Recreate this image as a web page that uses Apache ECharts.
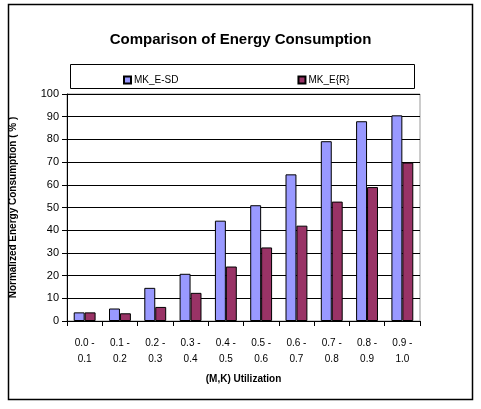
<!DOCTYPE html>
<html><head><meta charset="utf-8">
<script src="https://cdn.jsdelivr.net/npm/echarts@6/dist/echarts.min.js"></script>
<style>html,body{margin:0;padding:0;background:#fff}#c{width:481px;height:409px}</style>
</head><body><div id="c"></div>
<script>
const categories = ['0.0 -\n0.1','0.1 -\n0.2','0.2 -\n0.3','0.3 -\n0.4','0.4 -\n0.5','0.5 -\n0.6','0.6 -\n0.7','0.7 -\n0.8','0.8 -\n0.9','0.9 -\n1.0'];
const mkESD = [3.8, 5.5, 14.6, 20.8, 44.2, 51.0, 64.6, 79.2, 88.0, 90.6];
const mkER = [3.8, 3.4, 6.2, 12.4, 24.0, 32.4, 42.0, 52.6, 59.0, 69.8];
const seriesNames = ['MK_E-SD', 'MK_E{R}'];
const F = '"Liberation Sans", Arial, sans-serif';
const chart = echarts.init(document.getElementById('c'));
chart.setOption({
  animation: false,
  backgroundColor: '#fff',
  title: { text: 'Comparison of Energy Consumption', left: 'center', top: 27,
    textStyle: { fontFamily: F, fontSize: 15, fontWeight: 'bold', color: '#000' } },
  graphic: [
    { type: 'rect', shape: { x: 8.5, y: 4.5, width: 464, height: 395 }, style: { fill: 'none', stroke: '#000', lineWidth: 1.5 }, z: -1 },
    { type: 'rect', shape: { x: 70.5, y: 64.5, width: 344, height: 24 }, style: { fill: '#fff', stroke: '#000', lineWidth: 1 }, z: 0 }
  ],
  legend: { data: seriesNames, top: 70, left: 118, itemGap: 119, itemWidth: 7, itemHeight: 7, icon: 'rect',
    textStyle: { fontFamily: F, fontSize: 10, color: '#000', padding: [0,0,0,-2] } , z: 5},
  grid: { left: 66, right: 61, top: 94, bottom: 88, show: true, borderColor: '#999', borderWidth: 1 },
  xAxis: { type: 'category', data: categories,
    name: '(M,K) Utilization', nameLocation: 'middle', nameGap: 53,
    nameTextStyle: { fontFamily: F, fontSize: 10, fontWeight: 'bold', color: '#000' },
    axisLine: { lineStyle: { color: '#000', width: 1 } },
    axisTick: { show: true, length: 5, lineStyle: { color: '#000' } },
    axisLabel: { fontFamily: F, fontSize: 10, color: '#000', margin: 14, lineHeight: 16 } },
  yAxis: { type: 'value', min: 0, max: 100, interval: 10,
    name: 'Normalized Energy Consumption ( % )', nameLocation: 'middle', nameGap: 49, nameRotate: 90,
    nameTextStyle: { fontFamily: F, fontSize: 10, fontWeight: 'bold', color: '#000' },
    axisLine: { show: true, lineStyle: { color: '#000', width: 1 } },
    axisTick: { show: true, length: 5, lineStyle: { color: '#000' } },
    splitLine: { lineStyle: { color: '#000', width: 1 } },
    axisLabel: { fontFamily: F, fontSize: 11, color: '#000', margin: 8 } },
  series: [
    { name: seriesNames[0], type: 'bar', data: mkESD, barGap: '0%', barCategoryGap: '38%',
      itemStyle: { color: '#9999FF', borderColor: '#000', borderWidth: 1 } },
    { name: seriesNames[1], type: 'bar', data: mkER, barGap: '0%', barCategoryGap: '38%',
      itemStyle: { color: '#993366', borderColor: '#000', borderWidth: 1 } }
  ]
});
</script></body></html>
